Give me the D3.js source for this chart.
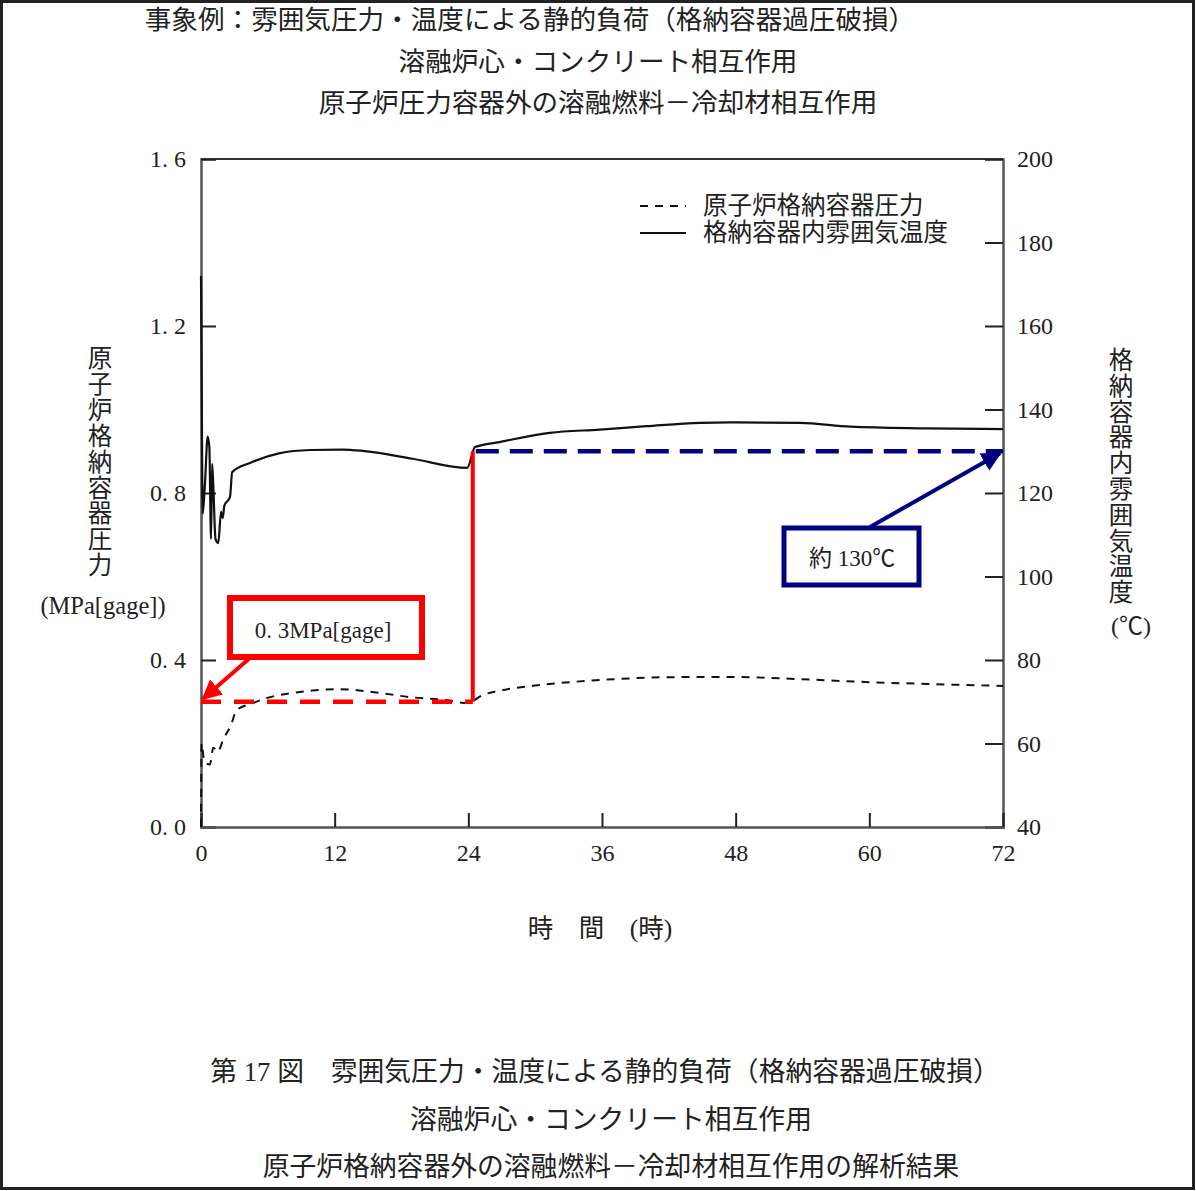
<!DOCTYPE html>
<html><head><meta charset="utf-8">
<script src="https://cdn.jsdelivr.net/npm/d3@7"></script>
<style>
body{margin:0;background:#fff;}
text{font-family:'Liberation Serif','Noto Sans CJK JP',serif;fill:#222;}
</style></head>
<body><svg id="c" width="1196" height="1191"></svg>
<script>
// ---- data ----
const titleLines = ["事象例：雰囲気圧力・温度による静的負荷（格納容器過圧破損）","溶融炉心・コンクリート相互作用","原子炉圧力容器外の溶融燃料－冷却材相互作用"];
const captionLines = ["第 17 図　雰囲気圧力・温度による静的負荷（格納容器過圧破損）","溶融炉心・コンクリート相互作用","原子炉格納容器外の溶融燃料－冷却材相互作用の解析結果"];
const xTicks = [0,12,24,36,48,60,72];
const pTicks = [0,0.4,0.8,1.2,1.6];
const tTicks = [40,60,80,100,120,140,160,180,200];
const seriesNames = ["原子炉格納容器圧力","格納容器内雰囲気温度"];
const leftTitle = "原子炉格納容器圧力";
const leftUnit = "(MPa[gage])";
const rightTitle = "格納容器内雰囲気温度";
const rightUnit = "(℃)";
const xTitle = "時　間　(時)";
// pressure [time h, MPa gage]
const pressure = [[0,0.0],[0.05,0.2],[0.3,0.156],[0.8,0.15],[1.1,0.19],[1.5,0.18],[2.0,0.21],[2.7,0.245],[3.2,0.28],[4.5,0.295],[5.9,0.309],[8,0.32],[10,0.327],[12.5,0.33],[15.5,0.323],[18.8,0.311],[22,0.304],[23.9,0.297],[25.3,0.316],[27.5,0.33],[30.4,0.34],[35.8,0.352],[43,0.359],[48.4,0.359],[53.8,0.354],[60,0.347],[66,0.342],[72,0.338]];
// temperature [time h, degC]
const temperature = [[0,172],[0.05,152],[0.15,115],[0.35,122],[0.6,133.5],[0.75,131],[0.9,109],[1.0,127],[1.1,122],[1.3,109],[1.55,108],[1.8,115.5],[1.95,114],[2.1,117],[2.6,119],[2.8,125],[4.4,127.2],[7,129.5],[9.8,130.3],[12.7,130.4],[14.5,130.1],[19,128.2],[23.9,126],[24.6,131],[26.8,132.2],[31.3,134.4],[35.8,135.2],[40,136],[44.8,136.8],[47.5,136.9],[53.8,136.8],[58.3,135.9],[65,135.5],[72,135.3]];
const refPressure = 0.3, refTemp = 130, refTime = 24.4;
const refPressureLabel = "0. 3MPa[gage]";
const refTempLabel = "約 130℃";

// ---- chart ----
const svg = d3.select("#c");
const x = d3.scaleLinear([0,72],[201,1003]);
const yP = d3.scaleLinear([0,1.6],[827,159]);
const yT = d3.scaleLinear([40,200],[827,159]);

svg.append("rect").attr("x",1.5).attr("y",1.5).attr("width",1192).attr("height",1187)
  .attr("fill","none").attr("stroke","#222").attr("stroke-width",3);

const tl = svg.append("g").attr("font-size",26.6).attr("text-anchor","middle");
const tpos = [[530,29],[598,71],[598,112]];
titleLines.forEach((t,i)=>tl.append("text").attr("x",tpos[i][0]).attr("y",tpos[i][1]).text(t));
const cpos = [[605,1081],[611,1129],[611,1176]];
captionLines.forEach((t,i)=>tl.append("text").attr("x",cpos[i][0]).attr("y",cpos[i][1]).attr("font-size",26.8).text(t));

// top frame line
svg.append("line").attr("x1",x(0)).attr("x2",x(72)).attr("y1",yP(1.6)).attr("y2",yP(1.6)).attr("stroke","#333").attr("stroke-width",2);

const fmt = d=>d.toFixed(1).replace(".",". ");
const gL = svg.append("g").attr("transform",`translate(${x(0)},0)`)
  .call(d3.axisLeft(yP).tickValues(pTicks).tickSize(-15).tickPadding(15).tickFormat(fmt));
const gR = svg.append("g").attr("transform",`translate(${x(72)},0)`)
  .call(d3.axisRight(yT).tickValues(tTicks).tickSize(-18).tickPadding(14).tickFormat(d3.format("d")));
const gB = svg.append("g").attr("transform",`translate(0,${yP(0)})`)
  .call(d3.axisBottom(x).tickValues(xTicks).tickSize(-14).tickPadding(17).tickFormat(d3.format("d")));
[gL,gR,gB].forEach(g=>{
  g.selectAll("text").attr("font-size",24).attr("font-family","'Liberation Serif',serif").attr("fill","#333");
  g.select(".domain").attr("stroke","#555").attr("stroke-width",2.5);
  g.selectAll(".tick line").attr("stroke","#222").attr("stroke-width",2);
});
gB.selectAll(".tick text").attr("dy","0.71em");

// axis titles
const lt = svg.append("g").attr("font-size",24.5).attr("text-anchor","middle");
Array.from(leftTitle).forEach((ch,i)=>lt.append("text").attr("x",100).attr("y",367+i*25.9).text(ch));
lt.append("text").attr("x",103).attr("y",614).attr("font-size",24.5).text(leftUnit);
Array.from(rightTitle).forEach((ch,i)=>lt.append("text").attr("x",1121).attr("y",369+i*25.8).text(ch));
lt.append("text").attr("x",1131).attr("y",634).attr("font-size",24).text(rightUnit);
lt.append("text").attr("x",600).attr("y",937).attr("font-size",25.5).text(xTitle);

// series
const lineP = d3.line().x(d=>x(d[0])).y(d=>yP(d[1])).curve(d3.curveMonotoneX);
const lineT = d3.line().x(d=>x(d[0])).y(d=>yT(d[1])).curve(d3.curveMonotoneX);
svg.append("path").datum(pressure).attr("d",lineP).attr("fill","none").attr("stroke","#111")
  .attr("stroke-width",2).attr("stroke-dasharray","8,7");
svg.append("path").datum(temperature).attr("d",lineT).attr("fill","none").attr("stroke","#111")
  .attr("stroke-width",2.2);

// legend
const lg = svg.append("g");
lg.append("line").attr("x1",640).attr("x2",686).attr("y1",206).attr("y2",206).attr("stroke","#111").attr("stroke-width",2).attr("stroke-dasharray","8,7");
lg.append("line").attr("x1",640).attr("x2",686).attr("y1",233).attr("y2",233).attr("stroke","#111").attr("stroke-width",2);
seriesNames.forEach((s,i)=>lg.append("text").attr("x",703).attr("y",214+i*27).attr("font-size",24.5).text(s));

// annotations
const defs = svg.append("defs");
[["ar","#ff0000"],["ab","#000080"]].forEach(([id,c])=>{
  defs.append("marker").attr("id",id).attr("viewBox","0 0 10 10").attr("refX",9).attr("refY",5)
   .attr("markerWidth",5).attr("markerHeight",5).attr("orient","auto").attr("markerUnits","strokeWidth")
   .append("path").attr("d","M0,0L10,5L0,10z").attr("fill",c);
});
const red="#ff0000", navy="#000080";
svg.append("line").attr("x1",x(0)).attr("x2",x(refTime)).attr("y1",yP(refPressure)).attr("y2",yP(refPressure))
  .attr("stroke",red).attr("stroke-width",4.5).attr("stroke-dasharray","20,13");
svg.append("line").attr("x1",x(refTime)).attr("x2",x(refTime)).attr("y1",yP(refPressure)).attr("y2",yT(refTemp))
  .attr("stroke",red).attr("stroke-width",4);
svg.append("line").attr("x1",x(refTime)+3).attr("x2",x(72)).attr("y1",yT(refTemp)).attr("y2",yT(refTemp))
  .attr("stroke",navy).attr("stroke-width",4.5).attr("stroke-dasharray","23,11");

svg.append("line").attr("x1",251).attr("y1",657).attr("x2",x(0)+2).attr("y2",yP(refPressure)-3)
  .attr("stroke",red).attr("stroke-width",4).attr("marker-end","url(#ar)");
svg.append("line").attr("x1",870).attr("y1",527).attr("x2",x(72)-3).attr("y2",yT(refTemp)+2)
  .attr("stroke",navy).attr("stroke-width",4).attr("marker-end","url(#ab)");

svg.append("rect").attr("x",230).attr("y",598).attr("width",192).attr("height",59)
  .attr("fill","#fff").attr("stroke",red).attr("stroke-width",6);
svg.append("text").attr("x",323).attr("y",638).attr("text-anchor","middle").attr("font-size",23).text(refPressureLabel);
svg.append("rect").attr("x",784).attr("y",528).attr("width",135).attr("height",57)
  .attr("fill","#fff").attr("stroke",navy).attr("stroke-width",5);
svg.append("text").attr("x",852).attr("y",566).attr("text-anchor","middle").attr("font-size",23).text(refTempLabel);
</script></body></html>
